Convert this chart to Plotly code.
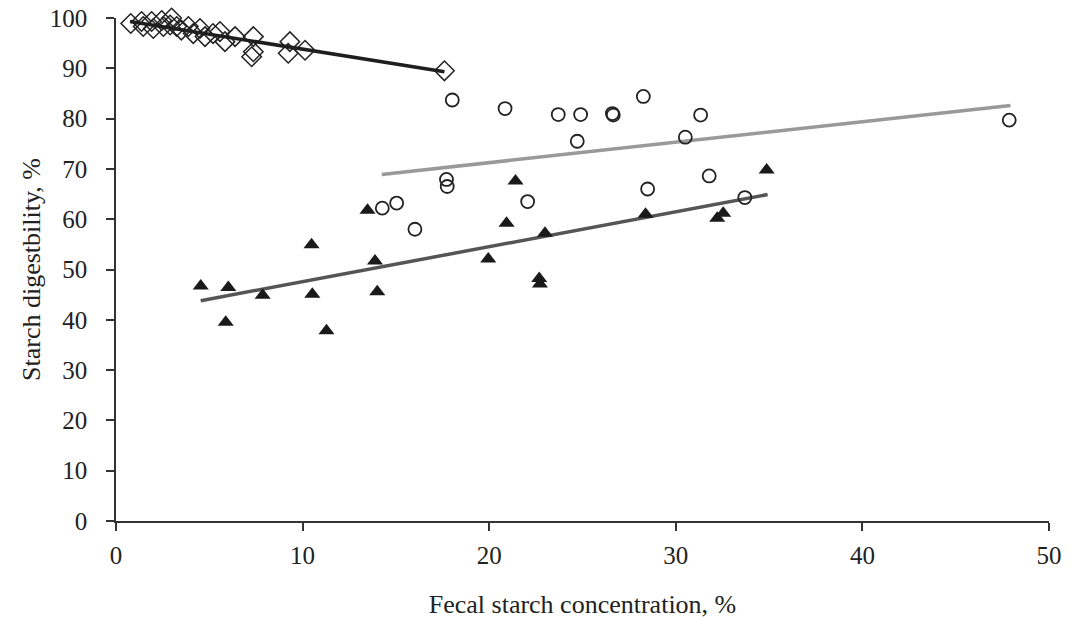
import plotly.graph_objects as go

# Open diamonds
diamond_x = [0.79, 1.37, 1.46, 1.91, 2.0, 2.45, 2.54, 2.98, 2.9, 3.25, 3.5, 3.88, 4.14, 4.5,
             4.77, 5.2, 5.57, 5.84, 6.38, 7.36, 7.36, 7.27, 9.32, 9.23, 10.13, 17.6]
diamond_y = [98.9, 99.3, 98.3, 99.3, 97.9, 99.5, 98.3, 100.0, 98.6, 98.3, 97.6, 98.3, 96.9, 97.9,
             96.3, 96.9, 97.3, 95.3, 96.3, 96.3, 93.3, 92.3, 95.3, 93.0, 93.6, 89.5]
diamond_fit_x = [0.75, 17.6]
diamond_fit_y = [99.3, 89.3]

# Open circles
circle_x = [14.27, 15.04, 16.02, 17.71, 17.75, 18.02, 20.85, 22.06, 23.70, 24.72, 24.9, 26.6,
            26.65, 28.26, 28.49, 30.51, 31.33, 31.79, 33.7, 47.87]
circle_y = [62.2, 63.2, 58.0, 67.9, 66.5, 83.7, 82.0, 63.5, 80.8, 75.5, 80.8, 81.0,
            80.7, 84.4, 66.0, 76.3, 80.7, 68.6, 64.3, 79.7]
circle_fit_x = [14.24, 47.94]
circle_fit_y = [68.9, 82.6]

# Filled triangles
triangle_x = [4.54, 5.88, 6.02, 7.86, 10.48, 10.52, 11.28, 13.48, 13.88, 14.0, 19.95, 20.93,
              21.41, 22.68, 22.72, 22.99, 28.38, 32.22, 32.54, 34.87]
triangle_y = [46.7, 39.5, 46.4, 44.9, 54.9, 45.1, 37.8, 61.8, 51.7, 45.6, 52.1, 59.2,
              67.6, 48.2, 47.1, 57.2, 61.0, 60.2, 61.2, 69.8]
triangle_fit_x = [4.54, 34.92]
triangle_fit_y = [43.8, 64.9]

x_ticks = [0, 10, 20, 30, 40, 50]
y_ticks = [0, 10, 20, 30, 40, 50, 60, 70, 80, 90, 100]

fig = go.Figure()

fig.add_trace(go.Scatter(x=circle_fit_x, y=circle_fit_y, mode="lines",
                         line=dict(color="#999999", width=3.5), showlegend=False,
                         cliponaxis=False))
fig.add_trace(go.Scatter(x=triangle_fit_x, y=triangle_fit_y, mode="lines",
                         line=dict(color="#555555", width=3.5), showlegend=False,
                         cliponaxis=False))

fig.add_trace(go.Scatter(x=diamond_x, y=diamond_y, mode="markers",
                         marker=dict(symbol="diamond-open", size=15, color="#222222",
                                     line=dict(width=1.5, color="#222222")),
                         showlegend=False, cliponaxis=False))
fig.add_trace(go.Scatter(x=circle_x, y=circle_y, mode="markers",
                         marker=dict(symbol="circle-open", size=13, color="#222222",
                                     line=dict(width=1.8, color="#222222")),
                         showlegend=False, cliponaxis=False))
fig.add_trace(go.Scatter(x=triangle_x, y=triangle_y, mode="markers",
                         marker=dict(symbol="triangle-up", size=14, color="#1a1a1a",
                                     line=dict(width=0)),
                         showlegend=False, cliponaxis=False))
fig.add_trace(go.Scatter(x=diamond_fit_x, y=diamond_fit_y, mode="lines",
                         line=dict(color="#1e1e1e", width=3.5), showlegend=False,
                         cliponaxis=False))

font_family = "Liberation Serif, Times New Roman, serif"

fig.update_layout(
    width=1070, height=619,
    margin=dict(l=116, r=21, t=18, b=98, autoexpand=False),
    paper_bgcolor="white", plot_bgcolor="white",
    font=dict(family=font_family, size=25, color="#222222"),
    xaxis=dict(range=[0, 50], tickvals=x_ticks, showgrid=False, zeroline=False,
               showline=True, linecolor="#333333", linewidth=1.5,
               ticks="outside", ticklen=8, tickcolor="#333333", tickwidth=1.5,
               ticklabelstandoff=3, automargin=False, ticklabeloverflow="allow",
               title=dict(text="Fecal starch concentration, %", standoff=27,
                          font=dict(size=26))),
    yaxis=dict(range=[0, 100], tickvals=y_ticks, showgrid=False, zeroline=False,
               showline=True, linecolor="#333333", linewidth=1.5,
               ticks="outside", ticklen=8, tickcolor="#333333", tickwidth=1.5,
               ticklabelstandoff=14, automargin=False, ticklabeloverflow="allow",
               title=dict(text="Starch digestbility, %", standoff=2,
                          font=dict(size=26))),
)

# Remove the browser's default 8px body margin so the figure fills the window exactly.
fig.write_html("out.html",
               config={"displayModeBar": False},
               post_script="document.body.style.margin='0';document.body.style.overflow='hidden';")
